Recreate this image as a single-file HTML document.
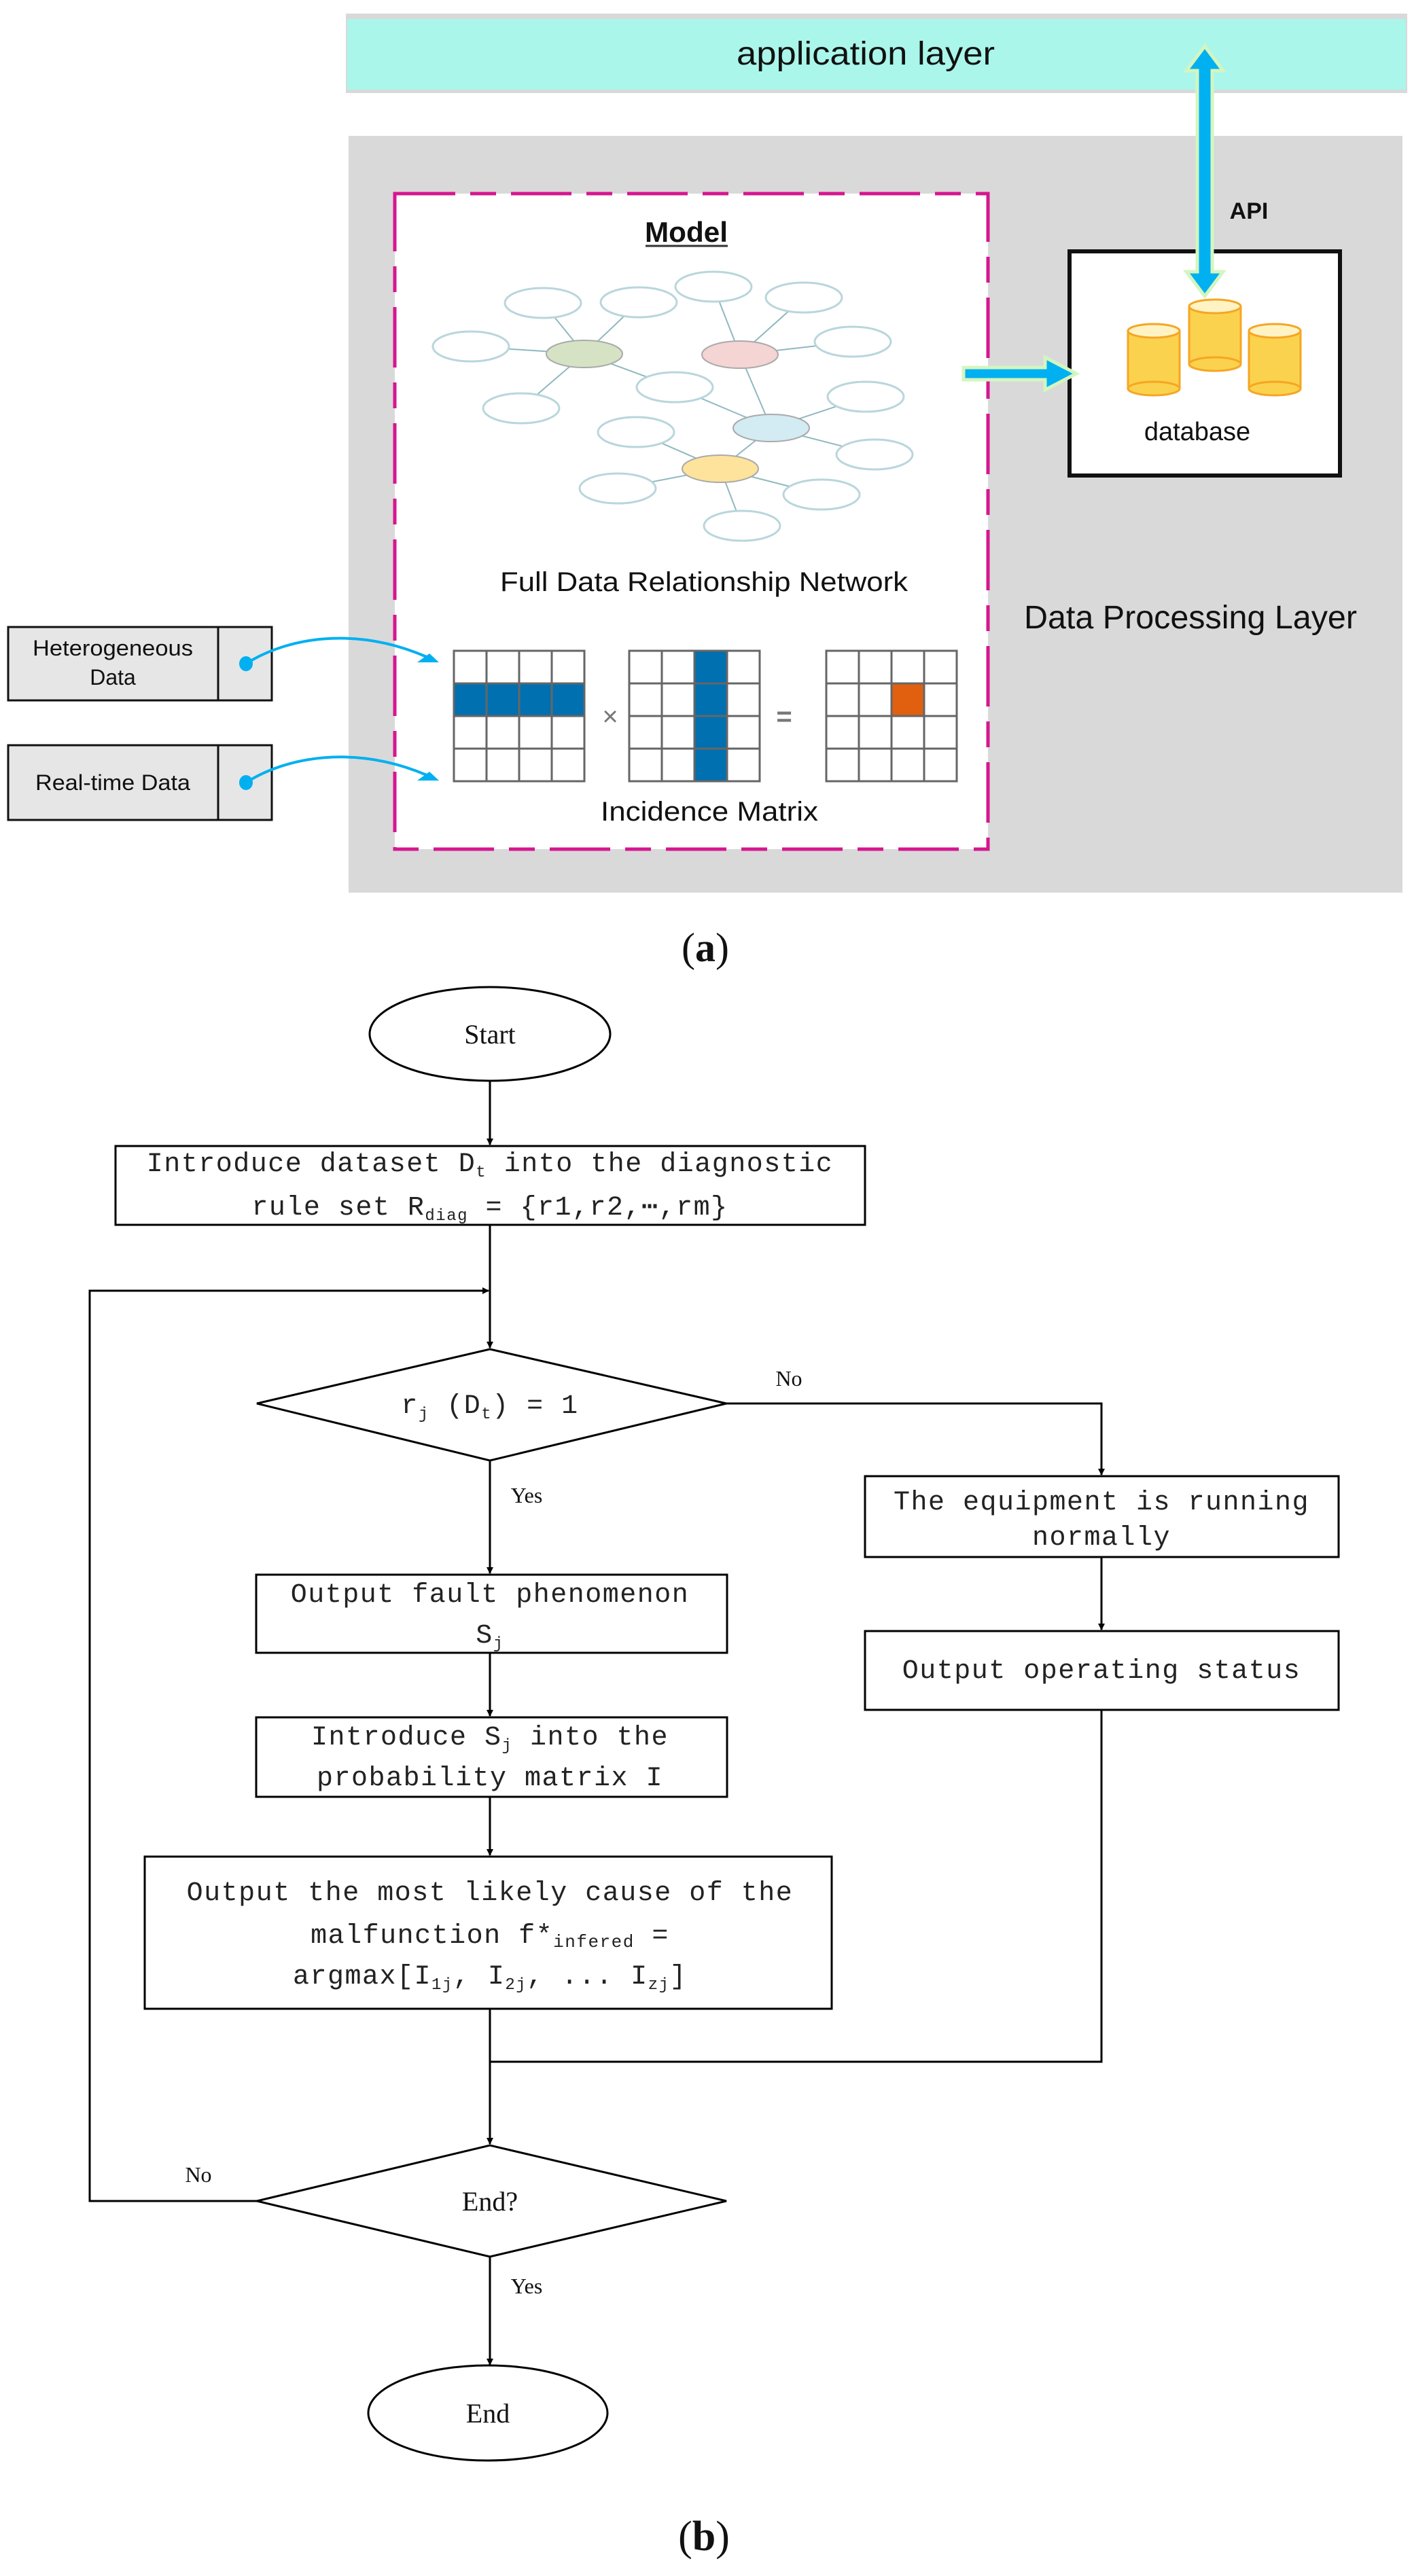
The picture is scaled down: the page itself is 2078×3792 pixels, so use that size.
<!DOCTYPE html>
<html><head><meta charset="utf-8"><style>
html,body{margin:0;padding:0;background:#fff;}
svg{display:block;}
.m{font-family:"Liberation Mono",monospace;font-size:40px;letter-spacing:1.5px;fill:#222;}
.s{font-family:"Liberation Serif",serif;fill:#111;}
.n{font-family:"Liberation Sans Narrow","Liberation Sans",sans-serif;fill:#111;}
</style></head><body>
<svg width="2078" height="3792" viewBox="0 0 2078 3792" xmlns="http://www.w3.org/2000/svg">
<defs>
<marker id="ah" markerWidth="10" markerHeight="10" refX="9" refY="5" orient="auto" markerUnits="userSpaceOnUse" viewBox="0 0 10 10"><path d="M0,0 L10,5 L0,10z" fill="#000"/></marker>
</defs>
<!-- application layer -->
<rect x="509" y="20" width="1562" height="117" fill="#d9d9d9"/>
<rect x="511" y="28" width="1558" height="104" fill="#aaf6ea"/>
<text x="1274" y="95" class="n" font-size="48" text-anchor="middle" textLength="380" lengthAdjust="spacingAndGlyphs">application layer</text>
<!-- data processing layer -->
<rect x="513" y="200" width="1551" height="1114" fill="#d9d9d9"/>
<rect x="581" y="285" width="873" height="965" fill="#fff" stroke="#d6168f" stroke-width="5" stroke-dasharray="89 22 38 22"/>
<text x="1010" y="356" class="n" font-size="42" font-weight="bold" text-anchor="middle" textLength="122" lengthAdjust="spacingAndGlyphs">Model</text>
<line x1="950" y1="362" x2="1071" y2="362" stroke="#333" stroke-width="3"/>
<!-- network -->
<g stroke="#8fb8c0" stroke-width="2" fill="none">
<path d="M860,521 L799,446 M860,521 L940,445 M860,521 L693,510 M860,521 L767,601 M860,521 L993,570 M993,570 L1135,630 M1089,522 L1050,422 M1089,522 L1183,438 M1089,522 L1255,503 M1089,522 L1135,630 M1135,630 L1274,584 M1135,630 L1287,669 M1135,630 L1060,690 M1060,690 L936,636 M1060,690 L909,719 M1060,690 L1209,728 M1060,690 L1092,774"/>
</g>
<g fill="#fff" stroke="#b9d6dc" stroke-width="3">
<ellipse cx="799" cy="446" rx="56" ry="22"/><ellipse cx="940" cy="445" rx="56" ry="22"/><ellipse cx="1050" cy="422" rx="56" ry="22"/><ellipse cx="1183" cy="438" rx="56" ry="22"/><ellipse cx="693" cy="510" rx="56" ry="22"/><ellipse cx="1255" cy="503" rx="56" ry="22"/><ellipse cx="993" cy="570" rx="56" ry="22"/><ellipse cx="767" cy="601" rx="56" ry="22"/><ellipse cx="1274" cy="584" rx="56" ry="22"/><ellipse cx="936" cy="636" rx="56" ry="22"/><ellipse cx="1287" cy="669" rx="56" ry="22"/><ellipse cx="909" cy="719" rx="56" ry="22"/><ellipse cx="1209" cy="728" rx="56" ry="22"/><ellipse cx="1092" cy="774" rx="56" ry="22"/>
</g>
<g stroke="#aaa" stroke-width="2">
<ellipse cx="860" cy="521" rx="56" ry="20" fill="#d5e3c4"/>
<ellipse cx="1089" cy="522" rx="56" ry="20" fill="#f5d4d4"/>
<ellipse cx="1135" cy="630" rx="56" ry="20" fill="#d3ebf3"/>
<ellipse cx="1060" cy="690" rx="56" ry="20" fill="#fde39b"/>
</g>
<text x="1036" y="870" class="n" font-size="40" text-anchor="middle" textLength="600" lengthAdjust="spacingAndGlyphs">Full Data Relationship Network</text>
<!-- matrices -->
<g>
<rect x="668" y="1006" width="192" height="48" fill="#0070b0"/>
<rect x="1022" y="958" width="48" height="192" fill="#0070b0"/>
<rect x="1312" y="1006" width="48" height="48" fill="#e06010"/>
<g stroke="#666" stroke-width="3" fill="none">
<path d="M668,958h192v192h-192z M716,958v192 M764,958v192 M812,958v192 M668,1006h192 M668,1054h192 M668,1102h192"/>
<path d="M926,958h192v192h-192z M974,958v192 M1022,958v192 M1070,958v192 M926,1006h192 M926,1054h192 M926,1102h192"/>
<path d="M1216,958h192v192h-192z M1264,958v192 M1312,958v192 M1360,958v192 M1216,1006h192 M1216,1054h192 M1216,1102h192"/>
</g>
<text x="898" y="1068" font-family="Liberation Sans,sans-serif" font-size="40" fill="#777" text-anchor="middle">×</text>
<text x="1154" y="1068" font-family="Liberation Sans,sans-serif" font-size="40" fill="#777" text-anchor="middle" font-weight="bold">=</text>
</g>
<text x="1044" y="1208" class="n" font-size="40" text-anchor="middle" textLength="320" lengthAdjust="spacingAndGlyphs">Incidence Matrix</text>
<!-- database box -->
<rect x="1574" y="370" width="398" height="330" fill="#fff" stroke="#111" stroke-width="6"/>
<g stroke="#f5a623" stroke-width="3">
<rect x="1660" y="487" width="76" height="85" fill="#fbd24e"/><ellipse cx="1698" cy="572" rx="38" ry="10" fill="#fbd24e"/><ellipse cx="1698" cy="487" rx="38" ry="10" fill="#fff3c4"/>
<rect x="1750" y="451" width="76" height="85" fill="#fbd24e"/><ellipse cx="1788" cy="536" rx="38" ry="10" fill="#fbd24e"/><ellipse cx="1788" cy="451" rx="38" ry="10" fill="#fff3c4"/>
<rect x="1838" y="487" width="76" height="85" fill="#fbd24e"/><ellipse cx="1876" cy="572" rx="38" ry="10" fill="#fbd24e"/><ellipse cx="1876" cy="487" rx="38" ry="10" fill="#fff3c4"/>
</g>
<text x="1762" y="648" font-family="Liberation Sans,sans-serif" font-size="38" fill="#111" text-anchor="middle">database</text>
<!-- API arrow -->
<path d="M1773,68 L1800,104 L1784,104 L1784,400 L1800,400 L1773,436 L1746,400 L1762,400 L1762,104 L1746,104 Z" fill="#00b0f0" stroke="#d4f5c0" stroke-width="5"/>
<text x="1838" y="322" font-family="Liberation Sans,sans-serif" font-size="34" font-weight="bold" fill="#111" text-anchor="middle">API</text>
<!-- horizontal arrow -->
<path d="M1418,541 L1538,541 L1538,526 L1584,550 L1538,574 L1538,559 L1418,559 Z" fill="#00b0f0" stroke="#d4f5c0" stroke-width="5"/>
<text x="1752" y="925" class="n" font-size="48" text-anchor="middle" textLength="490" lengthAdjust="spacingAndGlyphs">Data Processing Layer</text>
<!-- input boxes -->
<rect x="12" y="923" width="388" height="108" fill="#e6e6e6" stroke="#111" stroke-width="3"/>
<line x1="321" y1="923" x2="321" y2="1031" stroke="#111" stroke-width="3"/>
<text x="166" y="965" class="n" font-size="32" text-anchor="middle" textLength="236" lengthAdjust="spacingAndGlyphs">Heterogeneous</text>
<text x="166" y="1008" class="n" font-size="32" text-anchor="middle">Data</text>
<rect x="12" y="1097" width="388" height="110" fill="#e6e6e6" stroke="#111" stroke-width="3"/>
<line x1="321" y1="1097" x2="321" y2="1207" stroke="#111" stroke-width="3"/>
<text x="166" y="1163" class="n" font-size="32" text-anchor="middle" textLength="228" lengthAdjust="spacingAndGlyphs">Real-time Data</text>
<g fill="#00b0f0"><ellipse cx="362" cy="977" rx="10" ry="11"/><ellipse cx="362" cy="1152" rx="10" ry="11"/>
<path d="M632,962 L646,975 L614,975 Z"/><path d="M632,1136 L646,1149 L614,1149 Z"/></g>
<g stroke="#00b0f0" stroke-width="4" fill="none">
<path d="M362,977 C420,940 520,920 628,967"/>
<path d="M362,1152 C420,1115 520,1095 628,1141"/>
</g>
<text x="1038" y="1415" class="s" font-size="60" text-anchor="middle"><tspan>(</tspan><tspan font-weight="bold">a</tspan><tspan>)</tspan></text>

<!-- flowchart -->
<g stroke="#000" stroke-width="3" fill="none">
<ellipse cx="721" cy="1522" rx="177" ry="69" fill="#fff"/>
<line x1="721" y1="1591" x2="721" y2="1685" marker-end="url(#ah)"/>
<rect x="170" y="1687" width="1103" height="116" fill="#fff"/>
<line x1="721" y1="1803" x2="721" y2="1984" marker-end="url(#ah)"/>
<polyline points="378,3240 132,3240 132,1900 719,1900" marker-end="url(#ah)"/>
<polygon points="378,2066 721,1986 1069,2066 721,2150" fill="#fff"/>
<polyline points="1069,2066 1621,2066 1621,2171" marker-end="url(#ah)"/>
<rect x="1273" y="2173" width="697" height="119" fill="#fff"/>
<line x1="1621" y1="2292" x2="1621" y2="2399" marker-end="url(#ah)"/>
<rect x="1273" y="2401" width="697" height="116" fill="#fff"/>
<polyline points="1621,2517 1621,3035 721,3035"/>
<line x1="721" y1="2150" x2="721" y2="2316" marker-end="url(#ah)"/>
<rect x="377" y="2318" width="693" height="115" fill="#fff"/>
<line x1="721" y1="2433" x2="721" y2="2526" marker-end="url(#ah)"/>
<rect x="377" y="2528" width="693" height="117" fill="#fff"/>
<line x1="721" y1="2645" x2="721" y2="2731" marker-end="url(#ah)"/>
<rect x="213" y="2733" width="1011" height="224" fill="#fff"/>
<line x1="721" y1="2957" x2="721" y2="3156" marker-end="url(#ah)"/>
<polygon points="378,3240 721,3158 1069,3240 721,3322" fill="#fff"/>
<line x1="721" y1="3322" x2="721" y2="3481" marker-end="url(#ah)"/>
<ellipse cx="718" cy="3552" rx="176" ry="70" fill="#fff"/>
</g>
<text x="721" y="1536" class="s" font-size="40" text-anchor="middle">Start</text>
<text x="718" y="3566" class="s" font-size="40" text-anchor="middle">End</text>
<text x="721" y="3254" class="s" font-size="40" text-anchor="middle">End?</text>
<text x="1161" y="2040" class="s" font-size="32" text-anchor="middle">No</text>
<text x="292" y="3212" class="s" font-size="32" text-anchor="middle">No</text>
<text x="775" y="2212" class="s" font-size="32" text-anchor="middle">Yes</text>
<text x="775" y="3376" class="s" font-size="32" text-anchor="middle">Yes</text>

<text x="721" y="1724" class="m" text-anchor="middle">Introduce dataset D<tspan font-size="24" dy="8">t</tspan><tspan dy="-8"> into the diagnostic</tspan></text>
<text x="721" y="1788" class="m" text-anchor="middle">rule set R<tspan font-size="24" dy="8">diag</tspan><tspan dy="-8"> = {r1,r2,⋯,rm}</tspan></text>
<text x="721" y="2080" class="m" text-anchor="middle">r<tspan font-size="24" dy="8">j</tspan><tspan dy="-8"> (D</tspan><tspan font-size="24" dy="8">t</tspan><tspan dy="-8">) = 1</tspan></text>
<text x="1621" y="2222" class="m" text-anchor="middle">The equipment is running</text>
<text x="1621" y="2274" class="m" text-anchor="middle">normally</text>
<text x="1621" y="2470" class="m" text-anchor="middle">Output operating status</text>
<text x="721" y="2358" class="m" text-anchor="middle">Output fault phenomenon</text>
<text x="721" y="2418" class="m" text-anchor="middle">S<tspan font-size="24" dy="8">j</tspan></text>
<text x="721" y="2568" class="m" text-anchor="middle">Introduce S<tspan font-size="24" dy="8">j</tspan><tspan dy="-8"> into the</tspan></text>
<text x="721" y="2628" class="m" text-anchor="middle">probability matrix I</text>
<text x="721" y="2797" class="m" text-anchor="middle">Output the most likely cause of the</text>
<text x="721" y="2860" class="m" text-anchor="middle">malfunction f*<tspan font-size="26" dy="6">infered</tspan><tspan dy="-6"> =</tspan></text>
<text x="721" y="2920" class="m" text-anchor="middle">argmax[I<tspan font-size="24" dy="8">1j</tspan><tspan dy="-8">, I</tspan><tspan font-size="24" dy="8">2j</tspan><tspan dy="-8">, ... I</tspan><tspan font-size="24" dy="8">zj</tspan><tspan dy="-8">]</tspan></text>
<text x="1036" y="3754" class="s" font-size="62" text-anchor="middle"><tspan>(</tspan><tspan font-weight="bold">b</tspan><tspan>)</tspan></text>
</svg>
</body></html>
